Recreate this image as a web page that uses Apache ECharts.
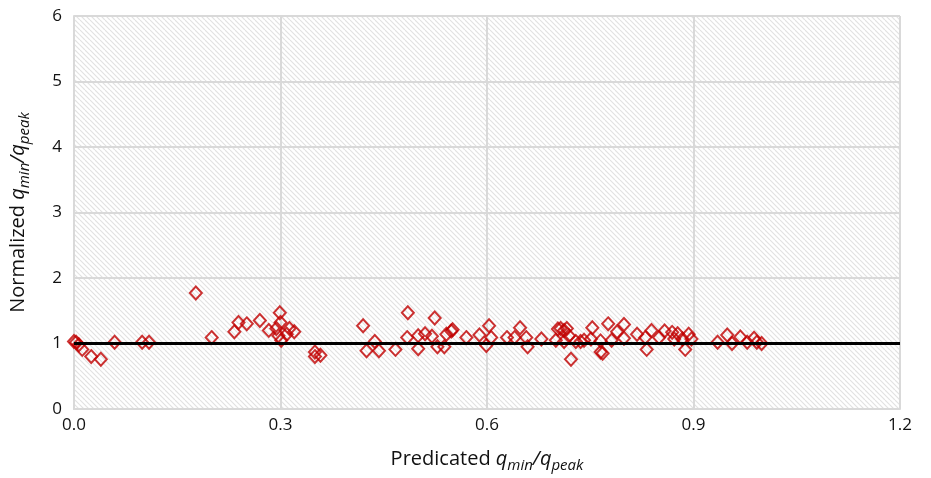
<!DOCTYPE html>
<html>
<head>
<meta charset="utf-8">
<script src="https://cdn.jsdelivr.net/npm/echarts@6/dist/echarts.min.js"></script>
<style>
  html, body { margin: 0; padding: 0; background: #fff; }
  #chart { width: 931px; height: 478px; }
</style>
</head>
<body>
<div id="chart"></div>
<script>
// predicted qmin/qpeak (x) and normalized qmin/qpeak (y)
var predicted = [
  0.000, 0.003, 0.007, 0.012, 0.025, 0.039, 0.059, 0.099, 0.109, 0.177,
  0.200, 0.233, 0.239, 0.251, 0.270, 0.283, 0.299, 0.300, 0.294, 0.297,
  0.301, 0.309, 0.313, 0.320, 0.350, 0.350, 0.358, 0.420, 0.425, 0.437,
  0.443, 0.467, 0.485, 0.484, 0.500, 0.500, 0.510, 0.520, 0.524, 0.528,
  0.538, 0.541, 0.548, 0.550, 0.570, 0.589, 0.603, 0.599, 0.606, 0.629,
  0.640, 0.648, 0.657, 0.659, 0.679, 0.700, 0.703, 0.707, 0.712, 0.716,
  0.719, 0.712, 0.722, 0.729, 0.736, 0.741, 0.751, 0.753, 0.765, 0.765,
  0.768, 0.776, 0.781, 0.789, 0.799, 0.799, 0.818, 0.830, 0.832, 0.839,
  0.850, 0.858, 0.869, 0.877, 0.872, 0.884, 0.888, 0.893, 0.897, 0.935,
  0.949, 0.956, 0.968, 0.978, 0.988, 0.992, 0.999
];
var normalized = [
  1.03, 1.02, 0.98, 0.91, 0.80, 0.76, 1.02, 1.02, 1.02, 1.77,
  1.09, 1.18, 1.32, 1.30, 1.35, 1.20, 1.47, 1.32, 1.23, 1.12,
  1.05, 1.14, 1.23, 1.18, 0.87, 0.80, 0.82, 1.27, 0.89, 1.03,
  0.89, 0.91, 1.47, 1.09, 0.92, 1.12, 1.15, 1.11, 1.39, 0.95,
  0.95, 1.14, 1.19, 1.21, 1.09, 1.13, 1.27, 0.97, 1.09, 1.09,
  1.09, 1.24, 1.09, 0.95, 1.07, 1.05, 1.22, 1.23, 1.20, 1.23,
  1.12, 1.03, 0.76, 1.03, 1.03, 1.05, 1.07, 1.24, 1.04, 0.87,
  0.85, 1.30, 1.05, 1.18, 1.29, 1.08, 1.14, 1.09, 0.91, 1.20,
  1.09, 1.19, 1.17, 1.15, 1.07, 1.07, 0.91, 1.14, 1.07, 1.02,
  1.13, 1.00, 1.10, 1.02, 1.08, 1.02, 1.00
];
// 1:1 reference line
var refLineX = [0, 1.2];
var refLineY = [1, 1];

var xTicks = [0, 0.3, 0.6, 0.9, 1.2];

// hatched plot background
var hatch = document.createElement('canvas');
hatch.width = 10;
hatch.height = 10;
var hc = hatch.getContext('2d');
hc.fillStyle = '#ffffff';
hc.fillRect(0, 0, 10, 10);
hc.strokeStyle = '#e2e2e2';
hc.lineWidth = 1.2;
for (var k = -3; k <= 3; k++) {
  hc.beginPath();
  hc.moveTo(k * 5, 0);
  hc.lineTo(k * 5 + 10, 10);
  hc.stroke();
}

var fontFam = '"Open Sans", sans-serif';
var rich = {
  n: { fontSize: 20, fontFamily: fontFam, color: '#111', lineHeight: 28 },
  q: { fontSize: 20, fontFamily: fontFam, color: '#111', fontStyle: 'italic', lineHeight: 28 },
  s: { fontSize: 15, fontFamily: fontFam, color: '#111', fontStyle: 'italic', lineHeight: 14, verticalAlign: 'bottom' }
};

var chart = echarts.init(document.getElementById('chart'));
chart.setOption({
  animation: false,
  backgroundColor: '#ffffff',
  grid: {
    left: 72, right: 31, top: 16, bottom: 66,
    show: true,
    borderWidth: 0,
    backgroundColor: { image: hatch, repeat: 'repeat' }
  },
  xAxis: {
    type: 'value',
    min: xTicks[0], max: xTicks[xTicks.length - 1], interval: 0.3,
    name: '{n|Predicated }{q|q}{s|min}{q|/q}{s|peak}',
    nameLocation: 'middle',
    nameGap: 36,
    nameTextStyle: { rich: rich },
    axisLine: { lineStyle: { color: '#d9d9d9', width: 2 } },
    axisTick: { show: false },
    axisLabel: {
      fontSize: 17, fontFamily: fontFam, color: '#111', margin: 8,
      formatter: function (v) { return v.toFixed(1); }
    },
    splitLine: { show: true, lineStyle: { color: '#d9d9d9', width: 2 } }
  },
  yAxis: {
    type: 'value',
    min: 0, max: 6, interval: 1,
    name: '{n|Normalized }{q|q}{s|min}{q|/q}{s|peak}',
    nameLocation: 'middle',
    nameGap: 42,
    nameTextStyle: { rich: rich },
    axisLine: { show: true, lineStyle: { color: '#d9d9d9', width: 2 } },
    axisTick: { show: false },
    axisLabel: { fontSize: 17, fontFamily: fontFam, color: '#111', margin: 12 },
    splitLine: { show: true, lineStyle: { color: '#d9d9d9', width: 2 } }
  },
  series: [
    {
      type: 'scatter',
      symbol: 'diamond',
      symbolSize: [12, 13],
      z: 3,
      itemStyle: { color: 'rgba(0,0,0,0)', borderColor: '#c00000', borderWidth: 2 },
      data: predicted.map(function (x, i) { return [x, normalized[i]]; })
    },
    {
      type: 'line',
      symbol: 'none',
      z: 4,
      lineStyle: { color: '#000', width: 3 },
      data: refLineX.map(function (x, i) { return [x, refLineY[i]]; })
    }
  ]
});
</script>
</body>
</html>
